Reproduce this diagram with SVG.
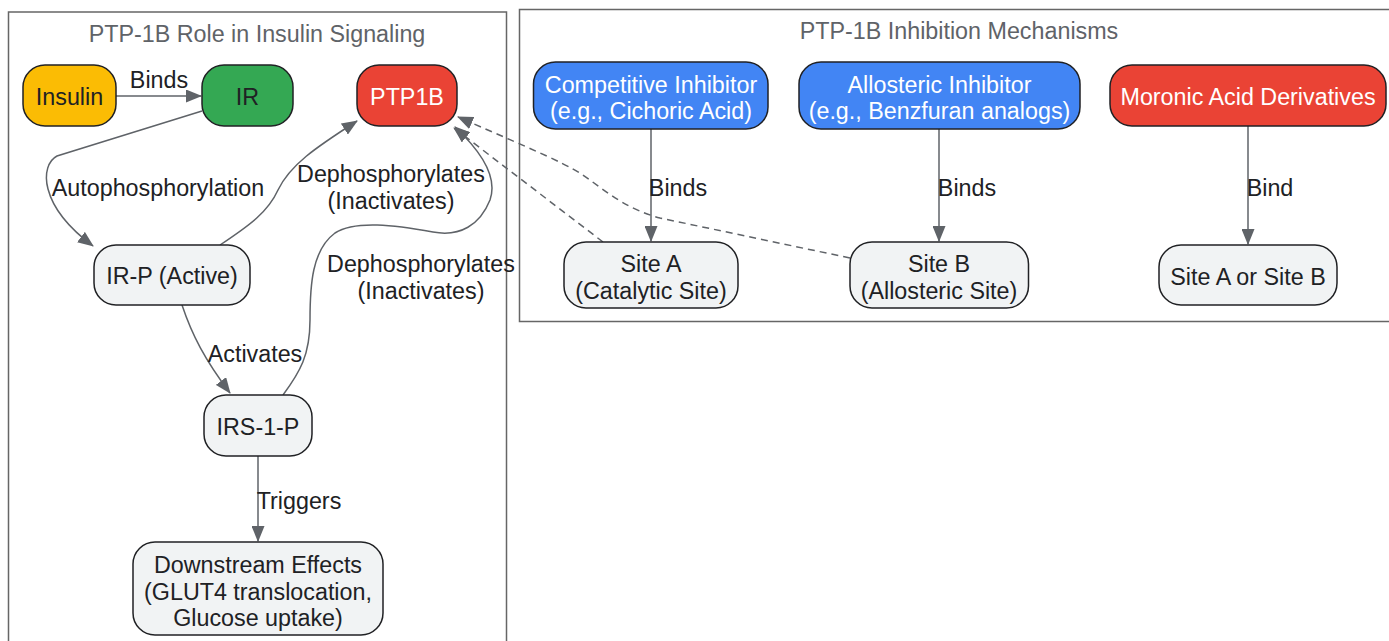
<svg xmlns="http://www.w3.org/2000/svg" width="1389" height="641" viewBox="0 0 1389 641">
<style>
text{font-family:"Liberation Sans",Arial,sans-serif;font-size:23.3px;text-anchor:middle;dominant-baseline:central;fill:#202124}
.cl{fill:none;stroke:#666;stroke-width:1.5}
.ct{fill:#5f6368}
.n{stroke:#202124;stroke-width:1.5}
.light{fill:#f1f3f4}
.w{fill:#fff}
.e{fill:none;stroke:#5f6368;stroke-width:1.5}
.d{stroke-dasharray:7,5}
</style>
<defs>
<marker id="ah" markerUnits="userSpaceOnUse" markerWidth="16" markerHeight="13" viewBox="0 0 16 13" refX="15" refY="6.5" orient="auto">
<path d="M0,0 L16,6.5 L0,13 z" fill="#5f6368"/>
</marker>
</defs>
<g id="clusters">
<rect class="cl" x="8.5" y="12" width="498" height="650"/>
<text class="ct" x="257" y="34">PTP-1B Role in Insulin Signaling</text>
<rect class="cl" x="519.5" y="9.5" width="890" height="312"/>
<text class="ct" x="959" y="31">PTP-1B Inhibition Mechanisms</text>
</g>
<g id="connectors">
<path class="e" d="M116,96 L201,96" marker-end="url(#ah)"/>
<path class="e" d="M202,111 L57,156 C40,165 38,205 93,246" marker-end="url(#ah)"/>
<path class="e" d="M220,245 C250,225 268,212 278,190 C290,165 315,148 357,121" marker-end="url(#ah)"/>
<path class="e" d="M283,395 C300,372 310,355 310,320 C310,285 312,250 335,233 C355,220 395,225 433,232 C460,237 480,225 490,200 C497,180 485,155 455,127" marker-end="url(#ah)"/>
<path class="e" d="M182,305 C192,335 205,360 230,393" marker-end="url(#ah)"/>
<path class="e" d="M258,456 L258,541" marker-end="url(#ah)"/>
<path class="e" d="M651,129 L651,241" marker-end="url(#ah)"/>
<path class="e" d="M939,129 L939,241" marker-end="url(#ah)"/>
<path class="e" d="M1248,126 L1248,244" marker-end="url(#ah)"/>
<path class="e d" d="M603,242 L454,128" marker-end="url(#ah)"/>
<path class="e d" d="M850,258 L660,218 C630,210 610,195 590,180 C570,165 545,155 458,117" marker-end="url(#ah)"/>
<text x="159" y="80">Binds</text>
<text x="158" y="188">Autophosphorylation</text>
<text x="391" y="174">Dephosphorylates</text>
<text x="391" y="201">(Inactivates)</text>
<text x="421" y="264">Dephosphorylates</text>
<text x="421" y="291">(Inactivates)</text>
<text x="255" y="354">Activates</text>
<text x="299" y="501">Triggers</text>
<text x="678" y="188">Binds</text>
<text x="967" y="188">Binds</text>
<text x="1270" y="188">Bind</text>
</g>
<g id="insulin">
<rect class="n" x="23" y="65" width="93" height="61" rx="22" fill="#fbbc04"/>
<text x="69.5" y="97">Insulin</text>
</g>
<g id="ir">
<rect class="n" x="202" y="65" width="91" height="61" rx="22" fill="#34a853"/>
<text x="247.5" y="97">IR</text>
</g>
<g id="ptp1b">
<rect class="n" x="357" y="65" width="100" height="61" rx="22" fill="#ea4335"/>
<text class="w" x="407" y="97">PTP1B</text>
</g>
<g id="irp">
<rect class="n light" x="94" y="245" width="156" height="60" rx="22"/>
<text x="172" y="276">IR-P (Active)</text>
</g>
<g id="irs1p">
<rect class="n light" x="204" y="395" width="108" height="61" rx="22"/>
<text x="258" y="427">IRS-1-P</text>
</g>
<g id="downstream">
<rect class="n light" x="133" y="542" width="250" height="93" rx="22"/>
<text x="258" y="565">Downstream Effects</text>
<text x="258" y="592">(GLUT4 translocation,</text>
<text x="258" y="618">Glucose uptake)</text>
</g>
<g id="competitive">
<rect class="n" x="533.5" y="62" width="234.5" height="67" rx="22" fill="#4285f4"/>
<text class="w" x="651" y="85">Competitive Inhibitor</text>
<text class="w" x="651" y="111">(e.g., Cichoric Acid)</text>
</g>
<g id="allosteric">
<rect class="n" x="799" y="62" width="281" height="67" rx="22" fill="#4285f4"/>
<text class="w" x="939.5" y="85">Allosteric Inhibitor</text>
<text class="w" x="939.5" y="111">(e.g., Benzfuran analogs)</text>
</g>
<g id="moronic">
<rect class="n" x="1110" y="65" width="276" height="61" rx="22" fill="#ea4335"/>
<text class="w" x="1248" y="97">Moronic Acid Derivatives</text>
</g>
<g id="siteA">
<rect class="n light" x="564" y="242" width="174" height="66" rx="22"/>
<text x="651" y="264">Site A</text>
<text x="651" y="291">(Catalytic Site)</text>
</g>
<g id="siteB">
<rect class="n light" x="850" y="242" width="178.5" height="66" rx="22"/>
<text x="939" y="264">Site B</text>
<text x="939" y="291">(Allosteric Site)</text>
</g>
<g id="siteAorB">
<rect class="n light" x="1159" y="245" width="178" height="60" rx="22"/>
<text x="1248" y="277">Site A or Site B</text>
</g>
</svg>
